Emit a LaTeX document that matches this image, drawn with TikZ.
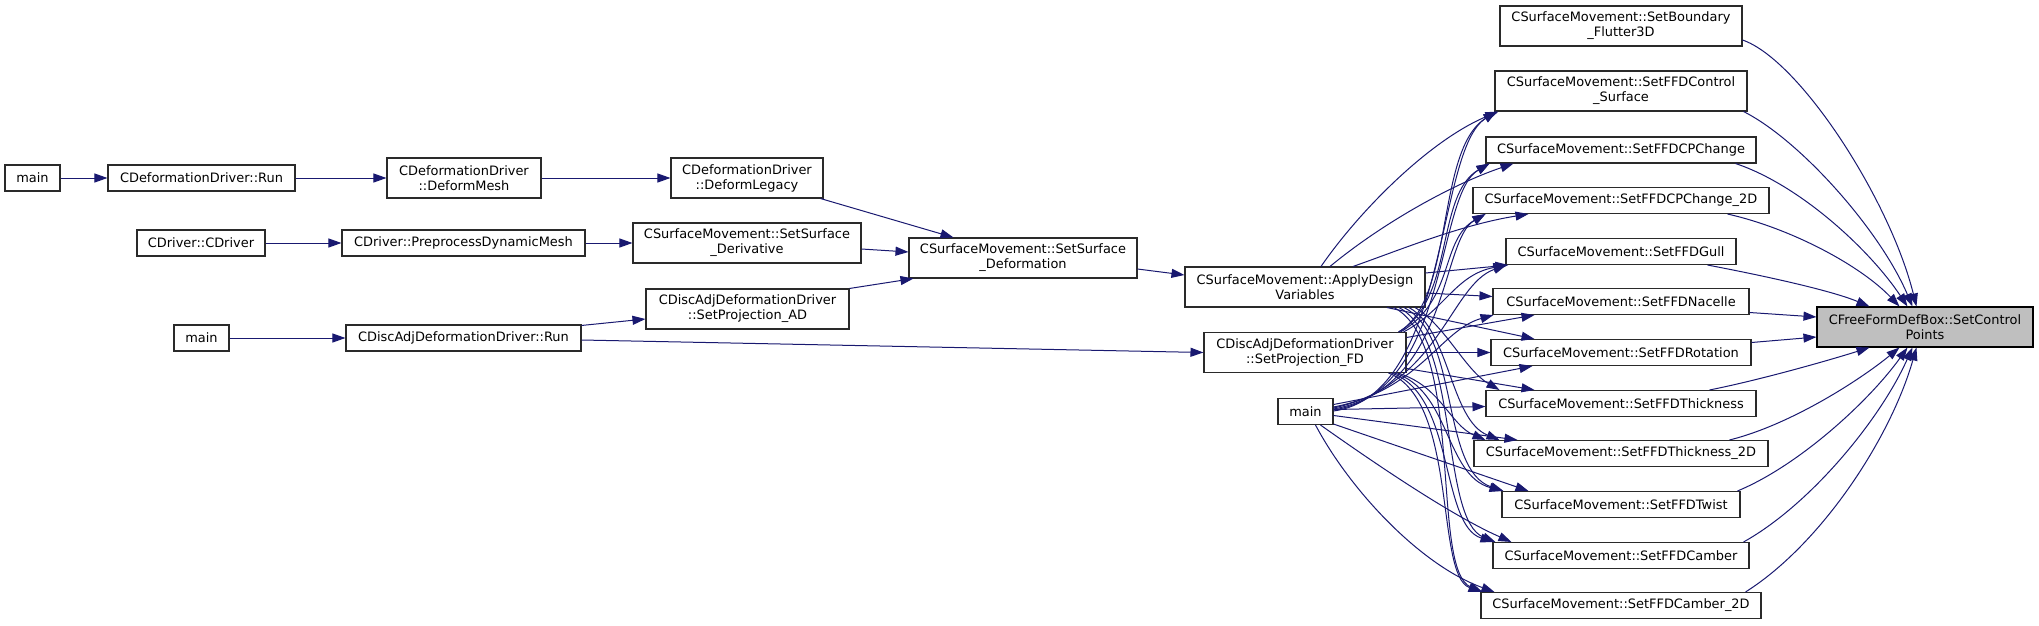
\documentclass[tikz,border=0pt]{standalone}
\usepackage{fontspec}
\setmainfont{DejaVu Sans}
\usetikzlibrary{arrows.meta,calc}
\definecolor{edgec}{HTML}{191970}
\definecolor{bordc}{HTML}{2A2A2A}
\definecolor{targf}{HTML}{BFBFBF}
\begin{document}
\begin{tikzpicture}[x=0.75pt,y=-0.75pt,
  box/.style={draw=bordc, line width=0.8pt, fill=white, inner sep=0pt, align=center,
    font=\fontsize{9.7}{11.25}\selectfont, minimum height=19.5pt},
  box2/.style={box, minimum height=30pt},
  e/.style={draw=edgec, line width=0.75pt, -{Triangle[length=9.75pt,width=6.75pt]}}]
\useasboundingbox (0,0) rectangle (2039,625);
% left part
\node[box, minimum width=41.25pt] (main1) at (32.5,178) {main};
\node[box, minimum width=140.25pt] (drun) at (201.5,178) {CDeformationDriver::Run};
\node[box2, minimum width=115.5pt] (dmesh) at (464,178) {CDeformationDriver\\::DeformMesh};
\node[box2, minimum width=114pt] (dlegacy) at (747,178) {CDeformationDriver\\::DeformLegacy};
\node[box, minimum width=96pt] (cdriver) at (201,243) {CDriver::CDriver};
\node[box, minimum width=182.25pt] (preproc) at (463.5,243) {CDriver::PreprocessDynamicMesh};
\node[box2, minimum width=171pt] (sderiv) at (747,243) {CSurfaceMovement::SetSurface\\\_Derivative};
\node[box2, minimum width=171pt] (sdeform) at (1023,258) {CSurfaceMovement::SetSurface\\\_Deformation};
\node[box2, minimum width=152.25pt] (projad) at (747.5,309) {CDiscAdjDeformationDriver\\::SetProjection\_AD};
\node[box, minimum width=41.25pt] (main2) at (201.5,338) {main};
\node[box, minimum width=176.25pt] (darun) at (463.5,338) {CDiscAdjDeformationDriver::Run};
% middle
\node[box2, minimum width=180pt] (adv) at (1305,287) {CSurfaceMovement::ApplyDesign\\Variables};
\node[box2, minimum width=151.5pt] (projfd) at (1305,352.5) {CDiscAdjDeformationDriver\\::SetProjection\_FD};
\node[box, minimum width=41.25pt] (main3) at (1305.5,411.5) {main};
% right column
\node[box2, minimum width=181.5pt] (flutter) at (1621,26) {CSurfaceMovement::SetBoundary\\\_Flutter3D};
\node[box2, minimum width=189pt] (ctrl) at (1621,91) {CSurfaceMovement::SetFFDControl\\\_Surface};
\node[box, minimum width=202.5pt] (cpch) at (1621,150) {CSurfaceMovement::SetFFDCPChange};
\node[box, minimum width=222pt] (cpch2) at (1621,200.5) {CSurfaceMovement::SetFFDCPChange\_2D};
\node[box, minimum width=172.5pt] (gull) at (1621,251.5) {CSurfaceMovement::SetFFDGull};
\node[box, minimum width=192pt] (nacelle) at (1621,301.5) {CSurfaceMovement::SetFFDNacelle};
\node[box, minimum width=195pt] (rotation) at (1621,352.5) {CSurfaceMovement::SetFFDRotation};
\node[box, minimum width=202.5pt] (thick) at (1621,403.5) {CSurfaceMovement::SetFFDThickness};
\node[box, minimum width=220.5pt] (thick2) at (1621,453.5) {CSurfaceMovement::SetFFDThickness\_2D};
\node[box, minimum width=178.5pt] (twist) at (1621,504.5) {CSurfaceMovement::SetFFDTwist};
\node[box, minimum width=192pt] (camber) at (1621,555.5) {CSurfaceMovement::SetFFDCamber};
\node[box, minimum width=210pt] (camber2) at (1621,605.5) {CSurfaceMovement::SetFFDCamber\_2D};
\node[box2, minimum width=162pt, fill=targf, draw=black] (target) at (1925,327) {CFreeFormDefBox::SetControl\\Points};

% left edges
\draw[e] (main1) -- (drun);
\draw[e] (drun) -- (dmesh);
\draw[e] (dmesh) -- (dlegacy);
\draw[e] ($(dlegacy.south east)+(-3,0)$) -- ($(sdeform.north west)+(45,0)$);
\draw[e] (cdriver) -- (preproc);
\draw[e] (preproc) -- (sderiv);
\draw[e] ($(sderiv.east)+(0,6)$) -- ($(sdeform.west)+(0,-6)$);
\draw[e] (main2) -- (darun);
\draw[e] ($(darun.north east)+(0,1)$) -- ($(projad.west)+(0,10)$);
\draw[e] ($(darun.east)+(0,2)$) -- (projfd.west);
\draw[e] (projad.north east) -- ($(sdeform.south west)+(5,0)$);
\draw[e] ($(sdeform.east)+(0,11)$) -- ($(adv.west)+(0,-12)$);

% ApplyDesignVariables fan
\draw[e] ($(adv.north)+(16,0)$) .. controls (1360,210) and (1430,140) .. ($(ctrl.south west)+(4,0)$);
\draw[e] ($(adv.north)+(25,0)$) .. controls (1380,225) and (1450,185) .. ($(cpch.south west)+(28,0)$);
\draw[e] ($(adv.north)+(48,0)$) .. controls (1400,250) and (1460,225) .. ($(cpch2.south west)+(56,0)$);
\draw[e] ($(adv.east)+(0,-14)$) -- ($(gull.south west)+(3,0)$);
\draw[e] ($(adv.east)+(0,6)$) -- ($(nacelle.west)+(0,-5)$);
\draw[e] ($(adv.south)+(82,0)$) -- ($(rotation.north west)+(44,0)$);
\draw[e] ($(adv.south)+(110,0)$) .. controls (1445,325) and (1465,370) .. ($(thick.north west)+(14,0)$);
\draw[e] ($(adv.south)+(104,0)$) .. controls (1450,330) and (1450,420) .. ($(thick2.north west)+(26,0)$);
\draw[e] ($(adv.south)+(99,0)$) .. controls (1460,335) and (1440,470) .. ($(twist.north west)+(2,0)$);
\draw[e] ($(adv.south)+(94,0)$) .. controls (1460,340) and (1440,520) .. ($(camber.north west)+(3,0)$);
\draw[e] ($(adv.south)+(89,0)$) .. controls (1465,345) and (1430,570) .. ($(camber2.north west)+(2,0)$);

% SetProjection_FD fan
\draw[e] ($(projfd.north east)+(-8,0)$) .. controls (1455,300) and (1435,150) .. ($(ctrl.south west)+(2,0)$);
\draw[e] ($(projfd.north east)+(-8,0)$) .. controls (1455,300) and (1435,195) .. ($(cpch.south west)+(4,0)$);
\draw[e] ($(projfd.north east)+(-6,0)$) .. controls (1455,300) and (1440,240) .. ($(cpch2.south west)+(13,0)$);
\draw[e] ($(projfd.north east)+(-3,0)$) .. controls (1445,310) and (1455,275) .. ($(gull.south west)+(1,0)$);
\draw[e] ($(projfd.east)+(0,-15)$) -- ($(nacelle.south west)+(42,0)$);
\draw[e] (projfd.east) -- (rotation.west);
\draw[e] ($(projfd.east)+(0,16)$) -- ($(thick.north west)+(49,0)$);
\draw[e] ($(projfd.south east)+(-9,0)$) .. controls (1440,385) and (1450,425) .. ($(thick2.north west)+(12,0)$);
\draw[e] ($(projfd.south east)+(-12,0)$) .. controls (1450,390) and (1445,475) .. ($(twist.north west)+(1,0)$);
\draw[e] ($(projfd.south east)+(-15,0)$) .. controls (1455,395) and (1440,525) .. ($(camber.north west)+(1,0)$);
\draw[e] ($(projfd.south east)+(-18,0)$) .. controls (1458,400) and (1435,575) .. ($(camber2.north west)+(1,0)$);

% main fan
\draw[e] ($(main3.east)+(0,-0.5)$) .. controls (1450,395) and (1435,150) .. ($(ctrl.south west)+(2,0)$);
\draw[e] ($(main3.east)+(0,-1.5)$) .. controls (1450,392) and (1435,195) .. ($(cpch.south west)+(4,0)$);
\draw[e] ($(main3.east)+(0,-2.5)$) .. controls (1450,388) and (1440,240) .. ($(cpch2.south west)+(13,0)$);
\draw[e] ($(main3.east)+(0,-3.5)$) .. controls (1440,385) and (1450,285) .. ($(gull.south west)+(1,0)$);
\draw[e] ($(main3.east)+(0,-4.5)$) .. controls (1420,390) and (1440,330) .. ($(nacelle.south west)+(1,0)$);
\draw[e] ($(main3.east)+(0,-7)$) -- ($(rotation.south west)+(42,0)$);
\draw[e] ($(main3.east)+(0,-2)$) -- ($(thick.west)+(0,3)$);
\draw[e] ($(main3.east)+(0,4)$) -- ($(thick2.north west)+(44,0)$);
\draw[e] ($(main3.south east)+(0,-1)$) -- ($(twist.north west)+(27,0)$);
\draw[e] ($(main3.south)+(15,0)$) .. controls (1370,460) and (1450,515) .. ($(camber.north west)+(19,0)$);
\draw[e] ($(main3.south)+(10,0)$) .. controls (1350,490) and (1420,565) .. ($(camber2.north west)+(14,0)$);

% to target
\draw[e] ($(flutter.east)+(0,14)$) .. controls (1800,60) and (1890,200) .. ($(target.north west)+(100,0)$);
\draw[e] ($(ctrl.south east)+(-4,0)$) .. controls (1800,140) and (1880,230) .. ($(target.north west)+(96,0)$);
\draw[e] ($(cpch.south east)+(-21,0)$) .. controls (1800,185) and (1870,250) .. ($(target.north west)+(91,0)$);
\draw[e] ($(cpch2.south east)+(-42,0)$) .. controls (1790,228) and (1860,265) .. ($(target.north west)+(83,0)$);
\draw[e] ($(gull.south east)+(-29,0)$) .. controls (1760,275) and (1830,290) .. ($(target.north west)+(53,0)$);
\draw[e] ($(nacelle.east)+(0,11)$) -- ($(target.west)+(0,-10)$);
\draw[e] ($(rotation.east)+(0,-10)$) -- ($(target.west)+(0,10)$);
\draw[e] ($(thick.north east)+(-47,0)$) .. controls (1760,380) and (1830,360) .. ($(target.south west)+(53,0)$);
\draw[e] ($(thick2.north east)+(-39,0)$) .. controls (1790,425) and (1860,380) .. ($(target.south west)+(83,0)$);
\draw[e] ($(twist.north east)+(-3,0)$) .. controls (1800,465) and (1870,400) .. ($(target.south west)+(91,0)$);
\draw[e] ($(camber.north east)+(-6,0)$) .. controls (1810,505) and (1880,420) .. ($(target.south west)+(96,0)$);
\draw[e] ($(camber2.north east)+(-16,0)$) .. controls (1820,545) and (1890,440) .. ($(target.south west)+(100,0)$);
\end{tikzpicture}
\end{document}
